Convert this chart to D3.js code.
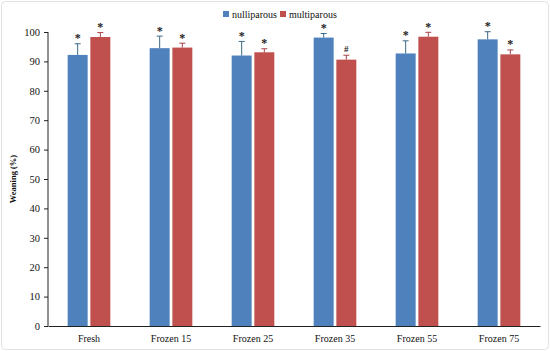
<!DOCTYPE html>
<html>
<head>
<meta charset="utf-8">
<script src="https://cdn.jsdelivr.net/npm/d3@7"></script>
<style>
  body { margin: 0; background: #fff; }
  svg { display: block; font-family: "Liberation Serif", "DejaVu Serif", serif; }
</style>
</head>
<body>
<svg id="chart" width="550" height="351"></svg>
<script>
  // data
  const groups = ['Fresh', 'Frozen 15', 'Frozen 25', 'Frozen 35', 'Frozen 55', 'Frozen 75'];
  const seriesNames = ['nulliparous', 'multiparous'];
  const nulliparous = [92.2, 94.5, 92.0, 98.1, 92.7, 97.5];
  const multiparous = [98.3, 94.7, 93.1, 90.6, 98.4, 92.4];
  const nulliErr = [3.8, 4.1, 4.8, 1.4, 4.3, 2.6];
  const multiErr = [1.5, 1.5, 1.2, 1.5, 1.5, 1.5];
  const nulliMark = ['*', '*', '*', '*', '*', '*'];
  const multiMark = ['*', '*', '*', '#', '*', '*'];
  const yTicks = [0, 10, 20, 30, 40, 50, 60, 70, 80, 90, 100];

  const colors = ['#4f81bd', '#c0504d'];
  const errColors = ['#3b6a86', '#a8404a'];

  const svg = d3.select('#chart');
  const m = { left: 48 };
  const W = 550, H = 351;

  // light frame round the whole figure
  svg.append('rect')
    .attr('x', 1.5).attr('y', 1.5).attr('width', W - 3).attr('height', H - 3)
    .attr('rx', 4).attr('fill', 'none').attr('stroke', '#e2e2e2');

  const x = d3.scaleBand().domain(groups).range([m.left, 540]);
  const y = d3.scaleLinear().domain([0, 100]).range([326, 32]);
  const xs = d3.scaleBand().domain(seriesNames).range([x.bandwidth() * 0.24, x.bandwidth() * 0.76]).paddingInner(0.12);

  const rows = groups.map((g, i) => ({
    g,
    vals: [
      { s: 0, v: nulliparous[i], e: nulliErr[i], mark: nulliMark[i] },
      { s: 1, v: multiparous[i], e: multiErr[i], mark: multiMark[i] }
    ]
  }));

  const grp = svg.append('g').selectAll('g.grp').data(rows).join('g')
    .attr('class', 'grp')
    .attr('transform', d => 'translate(' + x(d.g) + ',0)');

  const cell = grp.selectAll('g.cell').data(d => d.vals).join('g').attr('class', 'cell');

  cell.append('rect')
    .attr('x', d => xs(seriesNames[d.s]))
    .attr('width', xs.bandwidth())
    .attr('y', d => y(d.v))
    .attr('height', d => y(0) - y(d.v))
    .attr('fill', d => colors[d.s]);

  // error bars (upper only)
  const cx = d => xs(seriesNames[d.s]) + xs.bandwidth() / 2;
  cell.append('line')
    .attr('x1', cx).attr('x2', cx)
    .attr('y1', d => y(d.v)).attr('y2', d => y(d.v + d.e))
    .attr('stroke', d => errColors[d.s]).attr('stroke-width', 1);
  cell.append('line')
    .attr('x1', d => cx(d) - 3).attr('x2', d => cx(d) + 3)
    .attr('y1', d => y(d.v + d.e)).attr('y2', d => y(d.v + d.e))
    .attr('stroke', d => errColors[d.s]).attr('stroke-width', 1);

  cell.append('text')
    .attr('x', cx)
    .attr('y', d => y(d.v + d.e) + (d.mark === '#' ? -3 : -1.5))
    .attr('text-anchor', 'middle')
    .attr('font-size', d => d.mark === '#' ? 9 : 12)
    .attr('font-weight', 'bold')
    .attr('fill', '#222')
    .text(d => d.mark);

  // axes
  const yAxis = svg.append('g')
    .attr('transform', 'translate(' + m.left + ',0)')
    .call(d3.axisLeft(y).tickValues(yTicks).tickSize(4).tickPadding(4));
  yAxis.selectAll('text').attr('font-size', 10.5).attr('fill', '#111').attr('font-family', 'Liberation Serif, serif');
  yAxis.selectAll('line, path').attr('stroke', '#222');
  yAxis.select('.domain').attr('d', 'M0,' + y(0) + 'V' + y(100));

  const xAxis = svg.append('g')
    .attr('transform', 'translate(0,' + y(0) + ')')
    .call(d3.axisBottom(x).tickSize(0).tickPadding(9));
  xAxis.selectAll('text').attr('font-size', 10).attr('fill', '#111').attr('font-family', 'Liberation Serif, serif');
  xAxis.select('.domain').attr('stroke', '#222');

  svg.append('text')
    .attr('transform', 'translate(16,' + y(50) + ') rotate(-90)')
    .attr('text-anchor', 'middle')
    .attr('font-size', 8.5)
    .attr('font-weight', 'bold')
    .attr('fill', '#111')
    .text('Weaning (%)');

  // legend
  const leg = svg.append('g').selectAll('g').data(seriesNames).join('g')
    .attr('transform', (d, i) => 'translate(' + (223 + i * 57) + ',10)');
  leg.append('rect').attr('width', 6).attr('height', 6).attr('y', 1).attr('fill', (d, i) => colors[i]);
  leg.append('text').attr('x', 9).attr('y', 7.5).attr('font-size', 10).attr('fill', '#111').text(d => d);
</script>
</body>
</html>
